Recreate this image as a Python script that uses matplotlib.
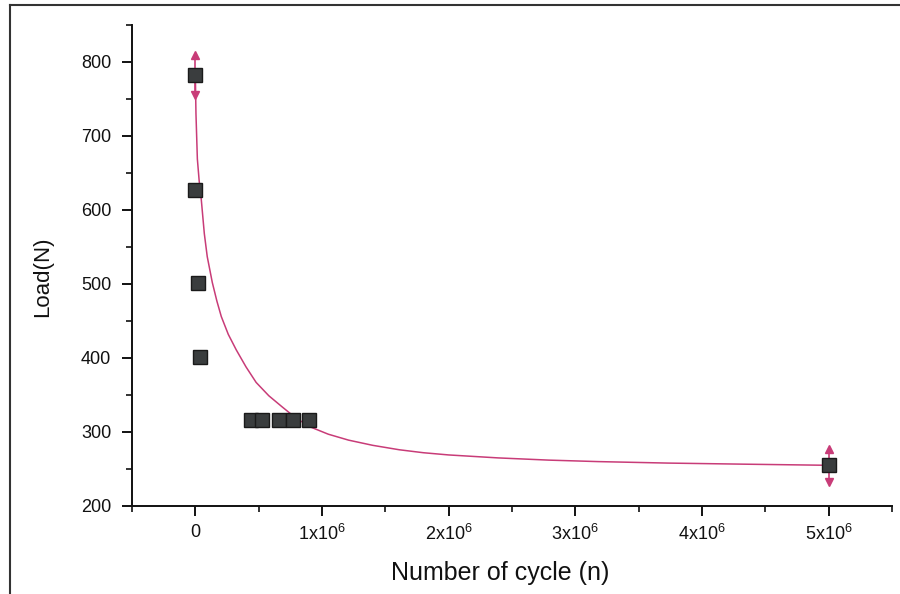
import numpy as np
import matplotlib
matplotlib.use("Agg")
import matplotlib.pyplot as plt
from matplotlib.ticker import MultipleLocator, FixedLocator
from matplotlib.lines import Line2D

plt.rcParams['font.family'] = ['Liberation Sans', 'DejaVu Sans']
plt.rcParams['mathtext.fontset'] = 'custom'
plt.rcParams['mathtext.rm'] = 'Liberation Sans'
plt.rcParams['mathtext.it'] = 'Liberation Sans'

# measured points
cycles = [0.0, 0.0, 0.02e6, 0.035e6, 0.44e6, 0.53e6, 0.66e6, 0.77e6, 0.90e6, 5.0e6]
load = [783, 627, 501, 401, 316, 316, 316, 316, 316, 255]

# points with arrow-style error bars
err_x = [0.0, 5.0e6]
err_y = [783, 255]
err_size = [27, 22]

# fitted curve
fit_x = [0.0, 0.005e6, 0.016e6, 0.03e6, 0.047e6, 0.071e6, 0.094e6, 0.134e6,
         0.17e6, 0.205e6, 0.26e6, 0.323e6, 0.40e6, 0.48e6, 0.58e6, 0.685e6,
         0.80e6, 0.92e6, 1.05e6, 1.21e6, 1.40e6, 1.61e6, 1.80e6, 2.0e6,
         2.39e6, 2.79e6, 3.18e6, 3.73e6, 4.34e6, 5.0e6]
fit_y = [783, 730, 669, 640, 614, 568, 537, 502, 477, 456, 432, 411, 388,
         367, 349, 334, 318, 306, 297, 289, 282, 276, 272, 269, 265, 262,
         260, 258, 256.5, 255]

xticks = [0, 1e6, 2e6, 3e6, 4e6, 5e6]
xlabels = ['0', r'1x10$^{6}$', r'2x10$^{6}$', r'3x10$^{6}$', r'4x10$^{6}$', r'5x10$^{6}$']

pink = '#c83c78'

fig = plt.figure(figsize=(9, 5.94), dpi=100)
ax = fig.add_axes([132/900, 1-506/594, (892-132)/900, (506-25)/594])

ax.plot(fit_x, fit_y, color=pink, lw=1.1, zorder=2, solid_joinstyle='round')

for xe, ye, e in zip(err_x, err_y, err_size):
    ax.plot([xe, xe], [ye-e, ye+e], color=pink, lw=1.2, zorder=2)
    ax.plot([xe], [ye+e], marker='^', color=pink, ms=6, zorder=3)
    ax.plot([xe], [ye-e], marker='v', color=pink, ms=6, zorder=3)

ax.plot(cycles, load, linestyle='none', marker='s', ms=9.5,
        markerfacecolor='#3a3d3e', markeredgecolor='#1a1a1a', mew=1.0, zorder=4)

ax.set_xlim(-0.5e6, 5.5e6)
ax.set_ylim(200, 850)
ax.xaxis.set_major_locator(FixedLocator(xticks))
ax.set_xticklabels(xlabels)
ax.xaxis.set_minor_locator(MultipleLocator(0.5e6))
ax.yaxis.set_major_locator(MultipleLocator(100))
ax.yaxis.set_minor_locator(MultipleLocator(50))
ax.set_yticks([200, 300, 400, 500, 600, 700, 800])

for s in ['top', 'right']:
    ax.spines[s].set_visible(False)
for s in ['left', 'bottom']:
    ax.spines[s].set_linewidth(1.4)
    ax.spines[s].set_color('#111111')

ax.tick_params(which='major', direction='out', length=7, width=1.4, labelsize=13,
               colors='#111111', pad=6)
ax.tick_params(axis='y', which='major', pad=8)
ax.tick_params(which='minor', direction='out', length=4, width=1.2, colors='#111111')

ax.set_xlabel('Number of cycle (n)', fontsize=18, color='#111111')
ax.set_ylabel('Load(N)', fontsize=16, color='#111111')
ax.xaxis.set_label_coords(0.484, -0.115)
ax.yaxis.set_label_coords(-0.104, 0.476)

# outer frame of the scanned figure
fig.add_artist(Line2D([10/900, 10/900], [0, 1-5/594], color='#333333', lw=1.5))
fig.add_artist(Line2D([10/900, 1], [1-5/594, 1-5/594], color='#333333', lw=1.5))

fig.savefig('out.png', dpi=100)
